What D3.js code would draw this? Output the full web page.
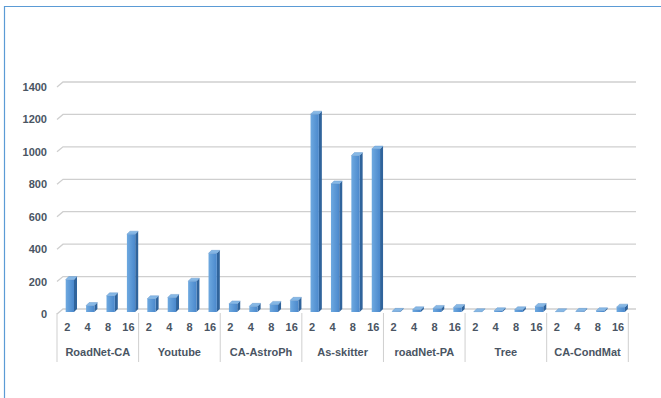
<!DOCTYPE html>
<html>
<head>
<meta charset="utf-8">
<script src="https://cdn.jsdelivr.net/npm/d3@7"></script>
<style>
  html, body { margin: 0; padding: 0; background: #fff; }
  svg { display: block; }
  text { font-family: "Liberation Sans", Arial, sans-serif; font-weight: bold; font-size: 11px; fill: #4a5563; }
</style>
</head>
<body>
<svg id="chart" width="661" height="398"></svg>
<script>
// Datasets and thread counts
const categories = ["RoadNet-CA", "Youtube", "CA-AstroPh", "As-skitter", "roadNet-PA", "Tree", "CA-CondMat"];
const threads = ["2", "4", "8", "16"];

// Run time per dataset, one array per thread count
const t2  = [200,  82, 50, 1220,  4,  2,  2];
const t4  = [ 40,  90, 35,  790, 14,  8,  4];
const t8  = [100, 190, 47,  965, 22, 14,  8];
const t16 = [480, 362, 72, 1005, 28, 34, 30];

const yTicks = [0, 200, 400, 600, 800, 1000, 1200, 1400];

const series = { "2": t2, "4": t4, "8": t8, "16": t16 };

const svg = d3.select("#chart");

// Outer frame
svg.append("path")
  .attr("d", "M4.5,398 V6.5 H661")
  .attr("fill", "none")
  .attr("stroke", "#5b9bd5")
  .attr("stroke-width", 1.2);

// Scales
const x0 = d3.scaleBand().domain(categories).range([57, 628.3]).padding(0);
const x1 = d3.scaleBand().domain(threads).range([0, x0.bandwidth()]);
const y = d3.scaleLinear().domain([0, 1400]).range([309, 82]);

// wall depth (front-left corner to back wall)
const wallDx = 6, wallDy = -5;
const rightEnd = 636;

// Gridlines on the back wall with the short diagonal on the side wall
const grid = svg.append("g");
yTicks.forEach(t => {
  const yb = y(t);
  grid.append("path")
    .attr("d", `M57,${yb - wallDy} L${57 + wallDx},${yb} H${rightEnd}`)
    .attr("fill", "none")
    .attr("stroke", "#cfcfcf")
    .attr("stroke-width", 1.3);
});

// Value axis labels
const yAxis = d3.axisLeft(y).tickValues(yTicks).tickFormat(d3.format("d")).tickSize(0).tickPadding(0);
const yg = svg.append("g").attr("transform", `translate(47,${-wallDy})`).call(yAxis);
yg.select(".domain").remove();
yg.selectAll("text")
  .attr("fill", "#4a5563")
  .style("font-family", "'Liberation Sans', Arial, sans-serif")
  .style("font-weight", "bold")
  .style("font-size", "11px");

// Bars drawn as 3D columns
const defs = svg.append("defs");
const grad = defs.append("linearGradient").attr("id", "front").attr("x1", "0").attr("x2", "1").attr("y1", "0").attr("y2", "0");
grad.append("stop").attr("offset", "0%").attr("stop-color", "#6ea9e0");
grad.append("stop").attr("offset", "100%").attr("stop-color", "#4a88cc");

const barW = 8.3, bDx = 3, bDy = -3;
const floorFront = y(0) + 3;

const bars = svg.append("g");
categories.forEach((cat, i) => {
  threads.forEach(th => {
    const v = series[th][i];
    const cx = x0(cat) + x1(th) + x1.bandwidth() / 2;
    const xl = cx - 1.5, xr = xl + barW;
    const top = y(v) + 3;
    const g = bars.append("g");
    // side face
    g.append("path")
      .attr("d", `M${xr},${top} L${xr + bDx},${top + bDy} L${xr + bDx},${floorFront + bDy} L${xr},${floorFront} Z`)
      .attr("fill", "#30649c");
    // front face
    g.append("rect")
      .attr("x", xl).attr("y", top)
      .attr("width", barW).attr("height", Math.max(0, floorFront - top))
      .attr("fill", "url(#front)");
    // top cap
    g.append("path")
      .attr("d", `M${xl},${top} L${xr},${top} L${xr + bDx},${top + bDy} L${xl + bDx},${top + bDy} Z`)
      .attr("fill", "#86b8e6")
      .attr("stroke", "#5a8fc8")
      .attr("stroke-width", 0.4);
  });
});

// Category axis: separators, thread labels, dataset labels
const axisG = svg.append("g");
const bounds = categories.map(c => x0(c)).concat([x0.range()[1]]);
bounds.forEach(bx => {
  axisG.append("line")
    .attr("x1", bx).attr("x2", bx)
    .attr("y1", 313).attr("y2", 362)
    .attr("stroke", "#cfcfcf")
    .attr("stroke-width", 1);
});

categories.forEach(cat => {
  threads.forEach(th => {
    axisG.append("text")
      .attr("x", x0(cat) + x1(th) + x1.bandwidth() / 2)
      .attr("y", 328)
      .attr("text-anchor", "middle")
      .attr("dominant-baseline", "middle")
      .text(th);
  });
  axisG.append("text")
    .attr("x", x0(cat) + x0.bandwidth() / 2)
    .attr("y", 353)
    .attr("text-anchor", "middle")
    .attr("dominant-baseline", "middle")
    .text(cat);
});
</script>
</body>
</html>
